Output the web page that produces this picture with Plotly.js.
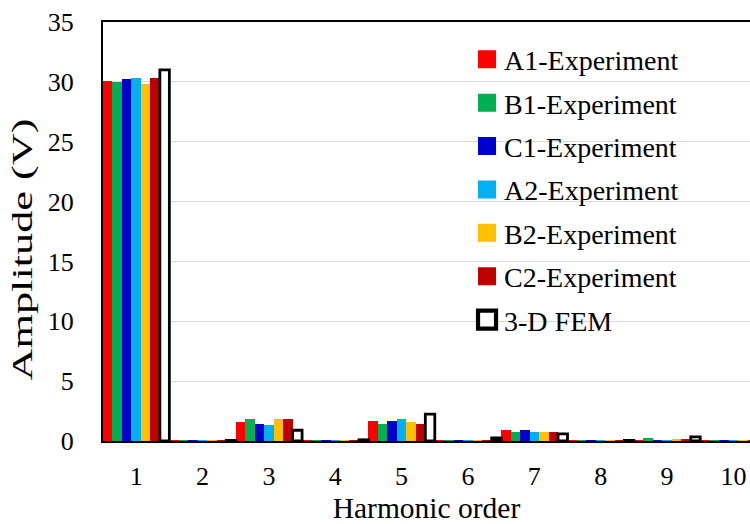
<!DOCTYPE html>
<html>
<head>
<meta charset="utf-8">
<script src="https://cdn.plot.ly/plotly-3.0.1.min.js"></script>
<style>html,body{margin:0;padding:0;background:#fff;}#chart{width:750px;height:524px;}</style>
</head>
<body>
<div id="chart"></div>
<script>
const harmonics = [1, 2, 3, 4, 5, 6, 7, 8, 9, 10];
const tickLabels = ["1", "2", "3", "4", "5", "6", "7", "8", "9", "10"];
const seriesNames = ["A1-Experiment", "B1-Experiment", "C1-Experiment", "A2-Experiment", "B2-Experiment", "C2-Experiment", "3-D FEM"];
const a1 = [30.1, 0.1, 1.55, 0.1, 1.65, 0.05, 0.95, 0.05, 0.1, 0.1];
const b1 = [30.0, 0.08, 1.8, 0.08, 1.45, 0.05, 0.75, 0.05, 0.25, 0.1];
const c1 = [30.2, 0.1, 1.45, 0.1, 1.65, 0.05, 0.95, 0.05, 0.1, 0.1];
const a2 = [30.3, 0.08, 1.35, 0.08, 1.85, 0.05, 0.75, 0.05, 0.1, 0.1];
const b2 = [29.8, 0.08, 1.8, 0.08, 1.55, 0.05, 0.75, 0.05, 0.2, 0.1];
const c2 = [30.35, 0.1, 1.85, 0.1, 1.45, 0.05, 0.75, 0.05, 0.2, 0.1];
const fem = [31.0, 0.05, 0.9, 0.1, 2.25, 0.25, 0.6, 0.05, 0.35, 0.05];

const colors = ["#FF0000", "#00B050", "#0000CC", "#00B0F0", "#FFC000", "#C00000", "#FFFFFF"];
const allSeries = [a1, b1, c1, a2, b2, c2, fem];

const traces = allSeries.map((ys, i) => ({
  type: "bar",
  name: seriesNames[i],
  x: harmonics,
  y: ys,
  legendgroup: "g" + i,
  marker: {
    color: colors[i],
    line: i === 6 ? {color: "#000000", width: 2.8} : {width: 0}
  }
}));

const font = "Liberation Serif, Times New Roman, serif";
const layout = {
  width: 750,
  height: 524,
  margin: {l: 103, r: 0, t: 22, b: 83},
  paper_bgcolor: "#fff",
  plot_bgcolor: "#fff",
  barmode: "group",
  bargap: 0,
  bargroupgap: 0,
  font: {family: font, color: "#000"},
  xaxis: {
    range: [0.5, 10.25],
    tickvals: harmonics,
    ticktext: tickLabels,
    tickfont: {family: font, size: 26, color: "#000"},
    ticklabelstandoff: 11,
    showline: true,
    mirror: true,
    linecolor: "#000",
    linewidth: 2,
    showgrid: false,
    zeroline: false,
    ticks: "",
    ticklen: 0,
    title: {text: "Harmonic order", font: {family: font, size: 29.5, color: "#000"}, standoff: 9}
  },
  yaxis: {
    range: [0, 35],
    dtick: 5,
    tickfont: {family: font, size: 26, color: "#000"},
    ticklabelstandoff: 22,
    showgrid: true,
    gridcolor: "#D9D9D9",
    gridwidth: 1,
    zeroline: false,
    showline: true,
    linecolor: "#000",
    linewidth: 2,
    layer: "below traces",
    ticks: "",
    title: {text: "Amplitude (V)", font: {family: font, size: 30, color: "#000"}, standoff: 6}
  },
  showlegend: true,
  legend: {
    x: 0.558,
    y: 0.97,
    xanchor: "left",
    yanchor: "top",
    bgcolor: "rgba(0,0,0,0)",
    font: {family: font, size: 28, color: "#000"},
    tracegroupgap: 4,
    traceorder: "grouped"
  }
};

Plotly.newPlot("chart", traces, layout, {displayModeBar: false, staticPlot: true}).then(gd => {
  const yt = gd.querySelector(".ytitle");
  if (yt) {
    yt.setAttribute("textLength", "262");
    yt.setAttribute("lengthAdjust", "spacingAndGlyphs");
    const tr = yt.getAttribute("transform") || "";
    yt.setAttribute("transform", "translate(0,18) " + tr);
  }
  gd.querySelectorAll(".legend .legendpoints path").forEach(p => {
    p.setAttribute("transform", "translate(23,0) scale(1.5)");
  });
});
</script>
</body>
</html>
